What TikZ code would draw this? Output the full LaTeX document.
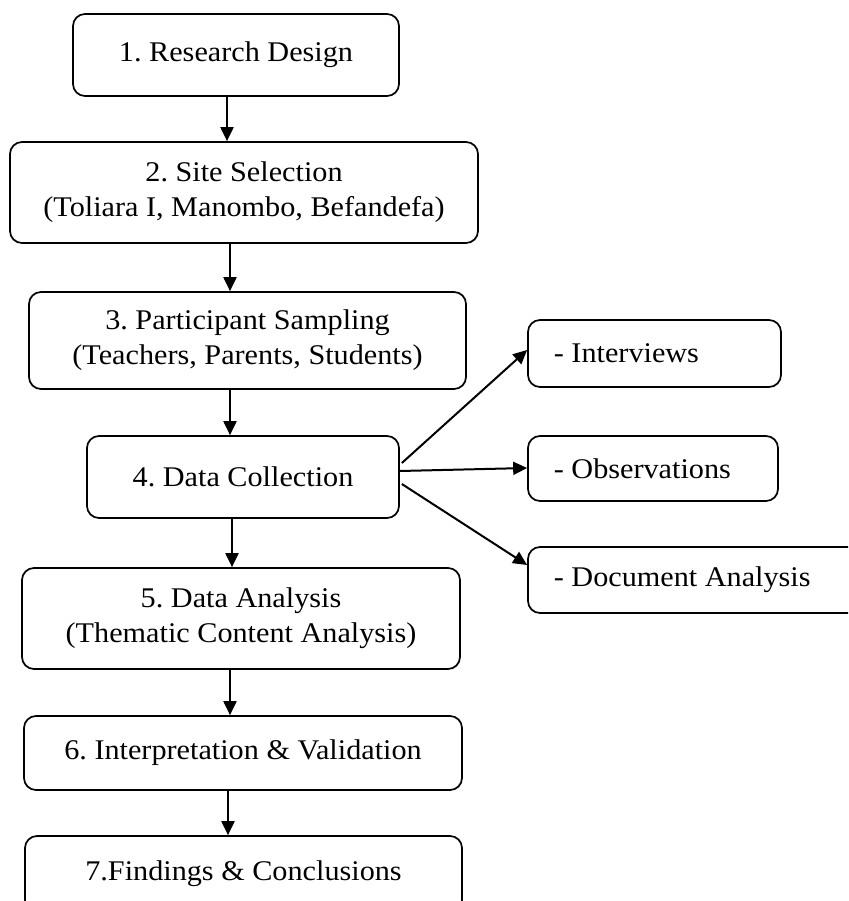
\documentclass[tikz,border=0pt]{standalone}
\usepackage{fontspec}
\setmainfont{Liberation Serif}[FakeStretch=1.06]
\usetikzlibrary{arrows.meta}
\frenchspacing
\begin{document}
\begin{tikzpicture}[x=1pt,y=1pt,
  box/.style={draw=black, line width=1.7pt, rounded corners=12pt, inner sep=0pt,
    align=center, font=\frenchspacing\fontsize{28.5}{35}\selectfont},
  arr/.style={line width=2pt, -{Triangle[length=14pt,width=13pt]}}]
\useasboundingbox (0,0) rectangle (848,-901);
\clip (0,0) rectangle (848,-901);
\node[box, minimum width=326, minimum height=82] (b1) at (236,-55) {1. Research Design};
\node[box, minimum width=468, minimum height=101] (b2) at (244,-192.5) {2. Site Selection\\(Toliara I, Manombo, Befandefa)};
\node[box, minimum width=437, minimum height=97] (b3) at (247.5,-340.5) {3. Participant Sampling\\(Teachers, Parents, Students)};
\node[box, minimum width=312, minimum height=82] (b4) at (243,-477) {4. Data Collection};
\node[box, minimum width=438, minimum height=101] (b5) at (241,-618.5) {5. Data Analysis\\(Thematic Content Analysis)};
\node[box, minimum width=438, minimum height=74] (b6) at (243,-753) {6. Interpretation \& Validation};
\node[box, minimum width=437, minimum height=76] (b7) at (243.5,-874) {7.Findings \& Conclusions};
\node[box, minimum width=253, minimum height=67] (s1) at (654.5,-353.5) {};
\node[box, minimum width=250, minimum height=65] (s2) at (653,-468.5) {};
\node[box, minimum width=342, minimum height=66] (s3) at (699,-580) {};
\node[box, draw=none, anchor=west] (t1) at (553,-353.5) {- Interviews};
\node[box, draw=none, anchor=west] (t2) at (553,-468.5) {- Observations};
\node[box, draw=none, anchor=west] (t3) at (553,-580) {- Document Analysis};
\coordinate (a1) at (227,0);
\coordinate (a2) at (230,0);
\coordinate (a4) at (232,0);
\coordinate (a6) at (228,0);
\draw[arr] (b1.south -| a1) -- (b2.north -| a1);
\draw[arr] (b2.south -| a2) -- (b3.north -| a2);
\draw[arr] (b3.south -| a2) -- (b4.north -| a2);
\draw[arr] (b4.south -| a4) -- (b5.north -| a4);
\draw[arr] (b5.south -| a2) -- (b6.north -| a2);
\draw[arr] (b6.south -| a6) -- (b7.north -| a6);
\draw[arr] ([shift={(2,14)}]b4.east) -- ([yshift=3.5]s1.west);
\draw[arr] ([yshift=6]b4.east) -- ([yshift=0.5]s2.west);
\draw[arr] ([shift={(2,-7)}]b4.east) -- ([yshift=15]s3.west);
\end{tikzpicture}
\end{document}
